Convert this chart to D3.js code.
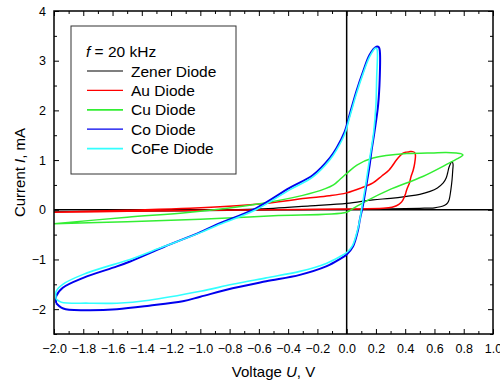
<!DOCTYPE html>
<html>
<head>
<meta charset="utf-8">
<script src="https://cdn.jsdelivr.net/npm/d3@7/dist/d3.min.js"></script>
<style>
  body { margin: 0; background: #fff; }
  text { font-family: Arial, "Liberation Sans", sans-serif; fill: #000; }
</style>
</head>
<body>
<svg id="chart" width="500" height="383"></svg>
<script>
// Axis ticks
const xTickValues = [-2.0, -1.8, -1.6, -1.4, -1.2, -1.0, -0.8, -0.6, -0.4, -0.2, 0.0, 0.2, 0.4, 0.6, 0.8, 1.0];
const yTickValues = [-2, -1, 0, 1, 2, 3, 4];

// Hysteresis loops: voltage U (V) and current I (mA), traced round each closed loop
const zenerU = [-2.0, -1.5, -1.0, -0.5, 0.0, 0.3, 0.5, 0.6, 0.64, 0.67, 0.69, 0.70, 0.712, 0.72, 0.725, 0.727, 0.72, 0.70, 0.69, 0.68, 0.66, 0.62, 0.57, 0.50, 0.41, 0.30, 0.18, 0.0, -0.25, -0.5, -1.0, -1.5, -2.0];
const zenerI = [-0.04, -0.03, -0.02, 0.0, 0.01, 0.02, 0.03, 0.04, 0.06, 0.09, 0.14, 0.2, 0.4, 0.6, 0.8, 0.92, 0.97, 0.86, 0.74, 0.64, 0.54, 0.44, 0.37, 0.31, 0.27, 0.23, 0.2, 0.13, 0.08, 0.03, -0.01, -0.03, -0.04];

const auU = [-2.0, -1.5, -1.0, -0.5, 0.0, 0.25, 0.31, 0.34, 0.37, 0.385, 0.40, 0.41, 0.43, 0.44, 0.455, 0.465, 0.47, 0.465, 0.45, 0.43, 0.41, 0.385, 0.36, 0.34, 0.29, 0.24, 0.18, 0.10, 0.0, -0.12, -0.28, -0.62, -1.07, -1.5, -2.0];
const auI = [-0.05, -0.03, -0.01, 0.0, 0.015, 0.03, 0.05, 0.08, 0.14, 0.2, 0.3, 0.4, 0.55, 0.67, 0.8, 0.94, 1.1, 1.15, 1.17, 1.17, 1.16, 1.14, 1.07, 1.0, 0.8, 0.68, 0.54, 0.44, 0.34, 0.28, 0.23, 0.11, 0.03, -0.01, -0.05];

const cuU = [-2.0, -1.5, -1.0, -0.5, 0.0, 0.04, 0.13, 0.29, 0.52, 0.70, 0.77, 0.795, 0.78, 0.75, 0.68, 0.55, 0.41, 0.18, 0.07, 0.0, -0.05, -0.09, -0.15, -0.3, -0.62, -1.07, -1.5, -2.0];
const cuI = [-0.28, -0.24, -0.19, -0.12, -0.05, 0.02, 0.17, 0.4, 0.67, 0.94, 1.05, 1.1, 1.13, 1.14, 1.15, 1.14, 1.13, 1.04, 0.9, 0.73, 0.6, 0.5, 0.42, 0.29, 0.11, -0.05, -0.15, -0.28];

const coU = [-1.985, -1.95, -1.92, -1.76, -1.57, -1.35, -1.12, -1.0, -0.78, -0.55, -0.32, -0.14, -0.05, 0.0, 0.043, 0.078, 0.09, 0.11, 0.135, 0.157, 0.169, 0.19, 0.215, 0.226, 0.227, 0.22, 0.203, 0.157, 0.112, 0.066, 0.02, -0.014, -0.07, -0.116, -0.23, -0.39, -0.62, -0.89, -1.0, -1.25, -1.48, -1.57, -1.80, -1.94, -1.985, -1.985];
const coI = [-1.88, -1.97, -2.0, -2.02, -2.0, -1.93, -1.84, -1.75, -1.58, -1.44, -1.31, -1.14, -1.0, -0.9, -0.74, -0.4, -0.2, 0.07, 0.5, 0.9, 1.17, 1.57, 2.11, 2.65, 3.18, 3.27, 3.28, 3.12, 2.78, 2.38, 1.91, 1.57, 1.24, 1.04, 0.70, 0.44, 0.03, -0.3, -0.45, -0.75, -1.04, -1.14, -1.37, -1.57, -1.74, -1.88];

const cofeU = [-1.985, -1.95, -1.76, -1.57, -1.35, -1.0, -0.78, -0.55, -0.32, -0.14, -0.05, 0.0, 0.04, 0.075, 0.09, 0.105, 0.13, 0.15, 0.165, 0.185, 0.20, 0.205, 0.21, 0.205, 0.195, 0.157, 0.112, 0.066, 0.02, -0.014, -0.07, -0.116, -0.23, -0.39, -0.62, -0.89, -1.0, -1.25, -1.48, -1.57, -1.80, -1.94, -1.985, -1.985];
const cofeI = [-1.8, -1.86, -1.88, -1.88, -1.82, -1.64, -1.5, -1.37, -1.24, -1.08, -0.95, -0.86, -0.72, -0.4, -0.2, 0.07, 0.5, 0.9, 1.17, 1.57, 2.11, 2.65, 3.18, 3.25, 3.25, 3.08, 2.74, 2.33, 1.86, 1.52, 1.2, 1.0, 0.66, 0.40, 0.0, -0.32, -0.46, -0.74, -1.0, -1.08, -1.3, -1.5, -1.64, -1.8];

const seriesNames = ["Zener Diode", "Au Diode", "Cu Diode", "Co Diode", "CoFe Diode"];
const seriesColors = ["#000000", "#ff0000", "#33ee33", "#0000ee", "#33ffff"];
const seriesWidths = [1.2, 1.5, 1.5, 2, 1.6];
const seriesU = [zenerU, auU, cuU, coU, cofeU];
const seriesI = [zenerI, auI, cuI, coI, cofeI];

const svg = d3.select("#chart");
const plotLeft = 54, plotRight = 493, plotTop = 11, plotBottom = 334;

const x = d3.scaleLinear().domain([-2, 1]).range([plotLeft, plotRight]);
const y = d3.scaleLinear().domain([-2.5, 4]).range([plotBottom, plotTop]);

const xMinor = d3.range(-20, 11).map(d => d / 10).filter(d => !xTickValues.some(t => Math.abs(t - d) < 1e-9));
const yMinor = d3.range(-5, 9).map(d => d / 2).filter(d => !yTickValues.includes(d));

function plainAxis(g) { g.select(".domain").remove(); }

// Bottom axis with labels, ticks pointing inward
const gx = svg.append("g").attr("transform", `translate(0,${plotBottom})`)
  .call(d3.axisBottom(x).tickValues(xTickValues).tickSizeInner(-5).tickSizeOuter(0).tickPadding(10).tickFormat(d3.format(".1f")))
  .call(plainAxis);
gx.selectAll("text").attr("font-size", 12.5).attr("font-family", "Arial, 'Liberation Sans', sans-serif");
svg.append("g").attr("transform", `translate(0,${plotBottom})`)
  .call(d3.axisBottom(x).tickValues(xMinor).tickSizeInner(-3).tickSizeOuter(0).tickFormat(""))
  .call(plainAxis);

// Top axis ticks
svg.append("g").attr("transform", `translate(0,${plotTop})`)
  .call(d3.axisTop(x).tickValues(xTickValues).tickSizeInner(-5).tickSizeOuter(0).tickFormat(""))
  .call(plainAxis);
svg.append("g").attr("transform", `translate(0,${plotTop})`)
  .call(d3.axisTop(x).tickValues(xMinor).tickSizeInner(-3).tickSizeOuter(0).tickFormat(""))
  .call(plainAxis);

// Left axis with labels
const gy = svg.append("g").attr("transform", `translate(${plotLeft},0)`)
  .call(d3.axisLeft(y).tickValues(yTickValues).tickSizeInner(-5).tickSizeOuter(0).tickPadding(8).tickFormat(d3.format("d")))
  .call(plainAxis);
gy.selectAll("text").attr("font-size", 12.5).attr("font-family", "Arial, 'Liberation Sans', sans-serif");
svg.append("g").attr("transform", `translate(${plotLeft},0)`)
  .call(d3.axisLeft(y).tickValues(yMinor).tickSizeInner(-3).tickSizeOuter(0).tickFormat(""))
  .call(plainAxis);

// Right axis ticks
svg.append("g").attr("transform", `translate(${plotRight},0)`)
  .call(d3.axisRight(y).tickValues(yTickValues).tickSizeInner(-5).tickSizeOuter(0).tickFormat(""))
  .call(plainAxis);
svg.append("g").attr("transform", `translate(${plotRight},0)`)
  .call(d3.axisRight(y).tickValues(yMinor).tickSizeInner(-3).tickSizeOuter(0).tickFormat(""))
  .call(plainAxis);

svg.selectAll(".tick line").attr("stroke", "#000").attr("stroke-width", 1);

// Zero lines
svg.append("line").attr("x1", x(0)).attr("x2", x(0)).attr("y1", plotTop).attr("y2", plotBottom)
  .attr("stroke", "#000").attr("stroke-width", 1.5);
svg.append("line").attr("x1", plotLeft).attr("x2", plotRight).attr("y1", y(0)).attr("y2", y(0))
  .attr("stroke", "#000").attr("stroke-width", 1.5);

// Loops
const line = d3.line().x(d => x(d[0])).y(d => y(d[1])).curve(d3.curveCatmullRom.alpha(0.5));
seriesNames.forEach((name, k) => {
  const pts = seriesU[k].map((u, j) => [u, seriesI[k][j]]);
  svg.append("path").datum(pts)
    .attr("d", line)
    .attr("fill", "none")
    .attr("stroke", seriesColors[k])
    .attr("stroke-width", seriesWidths[k])
    .attr("stroke-linejoin", "round");
});

// Frame
svg.append("rect").attr("x", plotLeft).attr("y", plotTop).attr("width", plotRight - plotLeft).attr("height", plotBottom - plotTop)
  .attr("fill", "none").attr("stroke", "#000").attr("stroke-width", 1.5);

// Axis titles
const xTitle = svg.append("text").attr("x", (plotLeft + plotRight) / 2).attr("y", 377)
  .attr("text-anchor", "middle").attr("font-size", 15);
xTitle.append("tspan").text("Voltage ");
xTitle.append("tspan").attr("font-style", "italic").text("U");
xTitle.append("tspan").text(", V");

const yTitle = svg.append("text").attr("transform", `translate(25,${(plotTop + plotBottom) / 2}) rotate(-90)`)
  .attr("text-anchor", "middle").attr("font-size", 15);
yTitle.append("tspan").text("Current ");
yTitle.append("tspan").attr("font-style", "italic").text("I");
yTitle.append("tspan").text(", mA");

// Legend
const lg = svg.append("g");
lg.append("rect").attr("x", 71).attr("y", 26).attr("width", 165).attr("height", 148)
  .attr("fill", "#fff").attr("stroke", "#333").attr("stroke-width", 1);
const fText = lg.append("text").attr("x", 86).attr("y", 57).attr("font-size", 15.5);
fText.append("tspan").attr("font-style", "italic").text("f");
fText.append("tspan").text(" = 20 kHz");
seriesNames.forEach((name, k) => {
  const cy = 71 + k * 19.4;
  lg.append("line").attr("x1", 87).attr("x2", 123).attr("y1", cy).attr("y2", cy)
    .attr("stroke", seriesColors[k]).attr("stroke-width", k === 2 || k === 4 ? 1.8 : 1.2);
  lg.append("text").attr("x", 131).attr("y", cy + 5.5).attr("font-size", 15.5).text(name);
});
</script>
</body>
</html>
